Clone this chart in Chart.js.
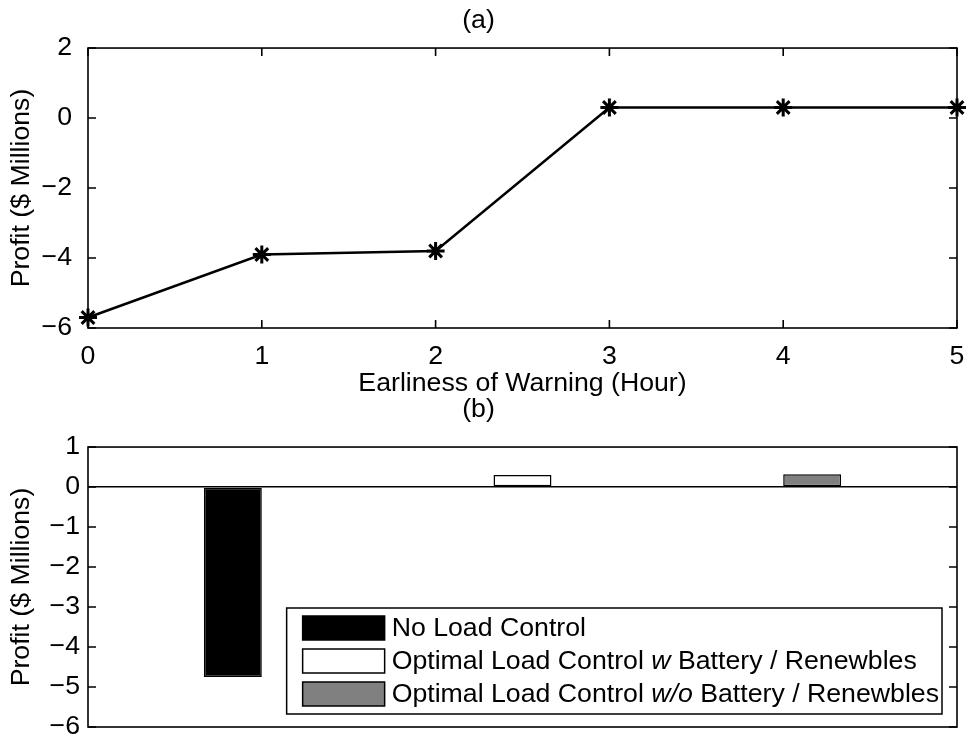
<!DOCTYPE html>
<html lang="en">
  <head>
    <meta charset="UTF-8" />
    <title>Profit vs warning time</title>
    <style>
      body { margin: 0; background: #fff; }
      #wrap { position: relative; width: 970px; height: 740px; }
      .box { position: absolute; left: 0; width: 970px; }
      #boxA { top: 0; height: 400px; }
      #boxB { top: 390px; height: 350px; }
    </style>
  </head>
  <body>
    <div id="wrap">
      <div class="box" id="boxA"><canvas id="chartA"></canvas></div>
      <div class="box" id="boxB"><canvas id="chartB"></canvas></div>
    </div>

    <script src="https://cdn.jsdelivr.net/npm/chart.js@4.4.1/dist/chart.umd.min.js"></script>
    <script>
      // (a) profit against how early the warning arrives
      const hours = [0, 1, 2, 3, 4, 5]
      const profitByHour = [-5.7, -3.9, -3.8, 0.3, 0.3, 0.3]

      // (b) profit for each control strategy (*...* = italic)
      const strategies = [
        'No Load Control',
        'Optimal Load Control *w* Battery / Renewbles',
        'Optimal Load Control *w/o* Battery / Renewbles',
      ]
      const strategyProfit = [-4.75, 0.3, 0.32]
      const strategyColors = ['#000000', '#ffffff', '#808080']

      const FAMILY = '"Liberation Sans", Arial, Helvetica, sans-serif'
      const FSIZE = 26.7
      Chart.defaults.color = '#000'
      Chart.defaults.font.family = FAMILY
      Chart.defaults.font.size = FSIZE

      const minus = (v) => String(v).replace('-', '\u2212')

      // matlab-ish box round the axes with inward tick marks
      const frameTicks = {
        id: 'frameTicks',
        afterDatasetsDraw(chart, args, opts) {
          const ctx = chart.ctx
          const a = chart.chartArea
          const len = 8
          ctx.save()
          ctx.strokeStyle = '#000'
          ctx.lineWidth = 1.6
          ctx.strokeRect(a.left, a.top, a.right - a.left, a.bottom - a.top)
          ctx.beginPath()
          const ys = chart.scales.y
          ys.ticks.forEach((t) => {
            const py = ys.getPixelForValue(t.value)
            ctx.moveTo(a.left, py)
            ctx.lineTo(a.left + len, py)
            ctx.moveTo(a.right, py)
            ctx.lineTo(a.right - len, py)
          })
          if (opts.xTicks) {
            const xs = chart.scales.x
            xs.ticks.forEach((t) => {
              const px = xs.getPixelForValue(t.value)
              ctx.moveTo(px, a.bottom)
              ctx.lineTo(px, a.bottom - len)
              ctx.moveTo(px, a.top)
              ctx.lineTo(px, a.top + len)
            })
          }
          ctx.stroke()
          ctx.restore()
        },
      }

      // legend box drawn inside the plot, bottom right
      const innerLegend = {
        id: 'innerLegend',
        afterDraw(chart, args, opts) {
          if (!opts.show) return
          const ctx = chart.ctx
          const a = chart.chartArea
          const ds = chart.data.datasets[0]
          const normal = FSIZE + 'px ' + FAMILY
          const italic = 'italic ' + normal
          const rows = chart.data.labels.map((lab) =>
            lab.split('*').map((t, i) => ({ t, font: i % 2 ? italic : normal })),
          )
          ctx.save()
          let maxW = 0
          rows.forEach((parts) => {
            let w = 0
            parts.forEach((p) => {
              ctx.font = p.font
              p.w = ctx.measureText(p.t).width
              w += p.w
            })
            maxW = Math.max(maxW, w)
          })
          const padL = 16, sw = 82, sh = 24, gap = 7, padR = 3, pitch = 33
          const boxW = padL + sw + gap + maxW + padR
          const boxH = 8 + sh + pitch * (rows.length - 1) + 8
          const right = a.right - 15
          const bottom = a.bottom - 13
          const left = right - boxW
          const top = bottom - boxH
          ctx.fillStyle = '#fff'
          ctx.fillRect(left, top, boxW, boxH)
          ctx.strokeStyle = '#000'
          ctx.lineWidth = 1.5
          ctx.strokeRect(left, top, boxW, boxH)
          ctx.textBaseline = 'middle'
          rows.forEach((parts, i) => {
            const sy = top + 8 + i * pitch
            ctx.fillStyle = ds.backgroundColor[i]
            ctx.fillRect(left + padL, sy, sw, sh)
            ctx.strokeRect(left + padL, sy, sw, sh)
            let tx = left + padL + sw + gap
            ctx.fillStyle = '#000'
            parts.forEach((p) => {
              ctx.font = p.font
              ctx.fillText(p.t, tx, sy + sh / 2 + 1)
              tx += p.w
            })
          })
          ctx.restore()
        },
      }

      const yTitle = {
        display: true,
        text: 'Profit ($ Millions)',
        padding: { top: 6, bottom: 0 },
      }

      // y axis fixed width, no label overhang added above/below the plot
      function fitY(s) {
        s.width = 88
        s.paddingTop = 0
        s.paddingBottom = 0
      }

      new Chart('chartA', {
        type: 'line',
        data: {
          datasets: [
            {
              data: hours.map((h, i) => ({ x: h, y: profitByHour[i] })),
              borderColor: '#000',
              borderWidth: 2.5,
              fill: false,
              tension: 0,
              clip: false,
              pointStyle: 'star',
              pointRadius: 9,
              pointBorderWidth: 3,
              pointBorderColor: '#000',
              pointBackgroundColor: '#000',
            },
          ],
        },
        options: {
          responsive: true,
          maintainAspectRatio: false,
          animation: false,
          layout: { padding: { left: 0, right: 13, top: 0, bottom: 0 } },
          plugins: {
            legend: { display: false },
            tooltip: { enabled: false },
            title: { display: true, text: '(a)', font: { weight: 'normal' }, padding: { top: 5, bottom: 11 } },
            frameTicks: { xTicks: true },
          },
          scales: {
            x: {
              type: 'linear',
              min: 0,
              max: 5,
              ticks: { stepSize: 1, padding: 5 },
              grid: { display: false },
              border: { display: false },
              title: { display: true, text: 'Earliness of Warning (Hour)', padding: { top: 0, bottom: 0 } },
              afterFit(s) {
                s.height = 72
                s.paddingLeft = 0
                s.paddingRight = 0
              },
            },
            y: {
              min: -6,
              max: 2,
              ticks: { stepSize: 2, padding: 8, callback: minus },
              grid: { display: false },
              border: { display: false },
              title: yTitle,
              afterFit: fitY,
            },
          },
        },
        plugins: [frameTicks],
      })

      new Chart('chartB', {
        type: 'bar',
        data: {
          labels: strategies,
          datasets: [
            {
              data: strategyProfit,
              backgroundColor: strategyColors,
              borderColor: '#000',
              borderWidth: 1.5,
              borderSkipped: false,
              barPercentage: 0.2,
              categoryPercentage: 1,
            },
          ],
        },
        options: {
          responsive: true,
          maintainAspectRatio: false,
          animation: false,
          layout: { padding: { left: 0, right: 13, top: 0, bottom: 0 } },
          plugins: {
            legend: { display: false },
            tooltip: { enabled: false },
            title: { display: true, text: '(b)', font: { weight: 'normal' }, padding: { top: 4, bottom: 21 } },
            frameTicks: { xTicks: false },
            innerLegend: { show: true },
          },
          scales: {
            x: {
              ticks: { display: false },
              grid: { display: false },
              border: { display: false },
              afterFit(s) {
                s.height = 13
                s.paddingLeft = 0
                s.paddingRight = 0
              },
            },
            y: {
              min: -6,
              max: 1,
              ticks: { stepSize: 1, padding: 8, callback: minus },
              grid: {
                drawTicks: false,
                lineWidth: 1.5,
                color: (c) => (c.tick && c.tick.value === 0 ? '#000' : 'rgba(0,0,0,0)'),
              },
              border: { display: false },
              title: yTitle,
              afterFit: fitY,
            },
          },
        },
        plugins: [frameTicks, innerLegend],
      })
    </script>
  </body>
</html>
